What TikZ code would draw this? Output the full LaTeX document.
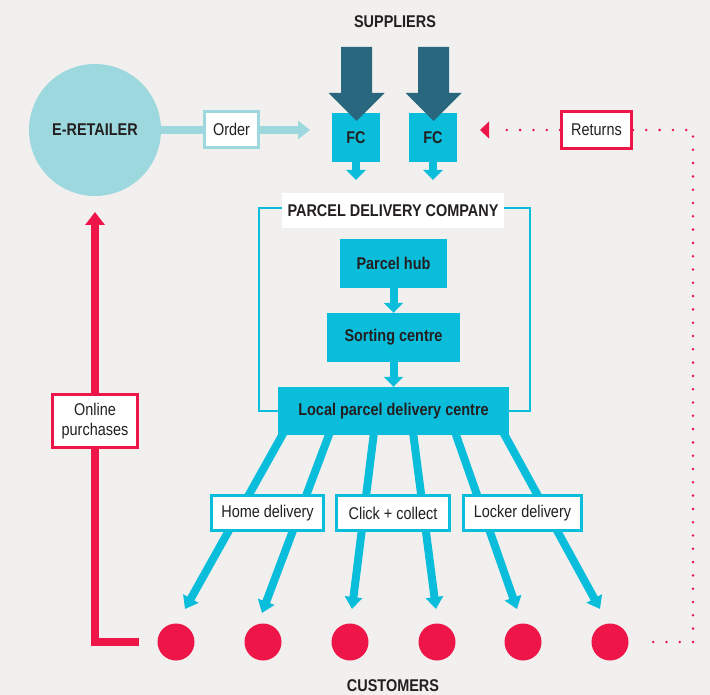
\documentclass[tikz,border=0pt]{standalone}
\usepackage{fontspec}
\setmainfont{Liberation Sans}[FakeStretch=0.85]
\usetikzlibrary{arrows.meta}
\definecolor{bgc}{HTML}{F2F0EE}
\definecolor{cyanc}{HTML}{0ABDDB}
\definecolor{darkteal}{HTML}{29677E}
\definecolor{redc}{HTML}{EE1549}
\definecolor{lteal}{HTML}{9DD8DE}
\definecolor{textc}{HTML}{231F20}
\tikzset{
  every node/.style={font=\fontsize{17}{19}\selectfont, text=textc, inner sep=0pt},
  bold/.style={font=\fontsize{17}{19}\selectfont\bfseries},
  cbox/.style={fill=cyanc, bold},
  lblcyan/.style={draw=cyanc, line width=3pt, fill=white},
  lblred/.style={draw=redc, line width=3pt, fill=white},
  cust/.style={circle, fill=redc, minimum size=37pt},
  smallarr/.style={cyanc, line width=8pt, -{Triangle[width=19pt,length=10pt]}},
  delarr/.style={cyanc, line width=8pt, -{Triangle[width=17pt,length=12pt]}},
  dotline/.style={redc, line width=2.8pt, line cap=round, dash pattern=on 0pt off 13.3pt},
}
\begin{document}
\begin{tikzpicture}[x=1pt,y=-1pt]
\fill[bgc] (0,0) rectangle (710,695);
\useasboundingbox (0,0) rectangle (710,695);

% frame of parcel delivery company
\draw[cyanc, line width=2pt] (259,208) rectangle (530,411);

% delivery lines (behind boxes)
\coordinate (s1) at (284,432); \coordinate (t1) at (185,609);
\coordinate (s2) at (330,432); \coordinate (t2) at (262,613);
\coordinate (s3) at (374,432); \coordinate (t3) at (352,609);
\coordinate (s4) at (413,432); \coordinate (t4) at (436,609);
\coordinate (s5) at (455,432); \coordinate (t5) at (517,609);
\coordinate (s6) at (503,432); \coordinate (t6) at (600,609);
\foreach \i in {1,...,6} {\draw[delarr] (s\i) -- (t\i);}

% order arrow (behind boxes)
\coordinate (erc) at (95,130);
\coordinate (ordtip) at (310,130);
\draw[lteal, line width=8pt, -{Triangle[width=18pt,length=12pt]}] (erc) -- (ordtip);

% online purchases line (behind boxes)
\coordinate (op1) at (139,642);
\coordinate (op2) at (95,642);
\coordinate (optip) at (95,212);
\draw[redc, line width=8pt, -{Triangle[width=19pt,length=13pt]}] (op1) -- (op2) -- (optip);

% nodes
\node[circle, fill=lteal, minimum size=132pt, bold] (er) at (erc) {E-RETAILER};
\node[draw=lteal, line width=3pt, fill=white, minimum width=54pt, minimum height=36pt] (order) at (231.5,129.5) {Order};
\node[cbox, minimum width=48pt, minimum height=49pt] (fc1) at (356,137.5) {FC};
\node[cbox, minimum width=48pt, minimum height=49pt] (fc2) at (433,137.5) {FC};
\node[lblred, minimum width=70pt, minimum height=37pt] (ret) at (596.5,130) {Returns};
\node[bold] (sup) at (395,22) {SUPPLIERS};
\node[fill=white, bold, minimum width=222pt, minimum height=35pt] (pdc) at (393,210.5) {PARCEL DELIVERY COMPANY};
\node[cbox, minimum width=107pt, minimum height=49pt] (hub) at (393.5,263.5) {Parcel hub};
\node[cbox, minimum width=133pt, minimum height=49pt] (sort) at (393.5,337.5) {Sorting centre};
\node[cbox, minimum width=231pt, minimum height=48pt] (local) at (393.5,411) {Local parcel delivery centre};
\node[lblcyan, minimum width=112pt, minimum height=35pt] (home) at (267.5,513) {Home delivery};
\node[lblcyan, minimum width=113pt, minimum height=35pt] (click) at (393,513) {Click + collect};
\node[lblcyan, minimum width=118pt, minimum height=35pt] (locker) at (522.5,513) {Locker delivery};
\node[lblred, minimum width=85pt, minimum height=53pt, align=center, font=\fontsize{17}{20}\selectfont] (online) at (95,421) {Online\\purchases};
\foreach \i/\x in {1/176,2/263,3/350,4/437,5/523,6/610} {\node[cust] (c\i) at (\x,642) {};}
\node[bold] (custl) at (393,686) {CUSTOMERS};

% supplier arrows
\foreach \cx/\n in {356.5/1,433.5/2} {
  \fill[darkteal] (\cx-15.5,47) -- (\cx+15.5,47) -- (\cx+15.5,93) -- (\cx+28,93)
     -- (\cx,121) -- (\cx-28,93) -- (\cx-15.5,93) -- cycle;
}

% small arrows
\coordinate (fa1) at (356,180); \coordinate (fa2) at (433,180);
\draw[smallarr] (fc1.south) -- (fa1);
\draw[smallarr] (fc2.south) -- (fa2);
\draw[smallarr] (hub.south) -- (sort.north);
\draw[smallarr] (sort.south) -- (local.north);

% returns dotted arrow
\coordinate (rettip) at (480,130);
\coordinate (retend) at (497,130);
\draw[dotline] (ret.west) -- (retend);
\fill[redc] (rettip) -- (489,121.5) -- (489,138.5) -- cycle;
\coordinate (rc1) at (693,130);
\coordinate (rc2) at (693,642);
\coordinate (rc3) at (647,642);
\draw[dotline] (ret.east) -- (rc1) -- (rc2) -- (rc3);
\end{tikzpicture}
\end{document}
